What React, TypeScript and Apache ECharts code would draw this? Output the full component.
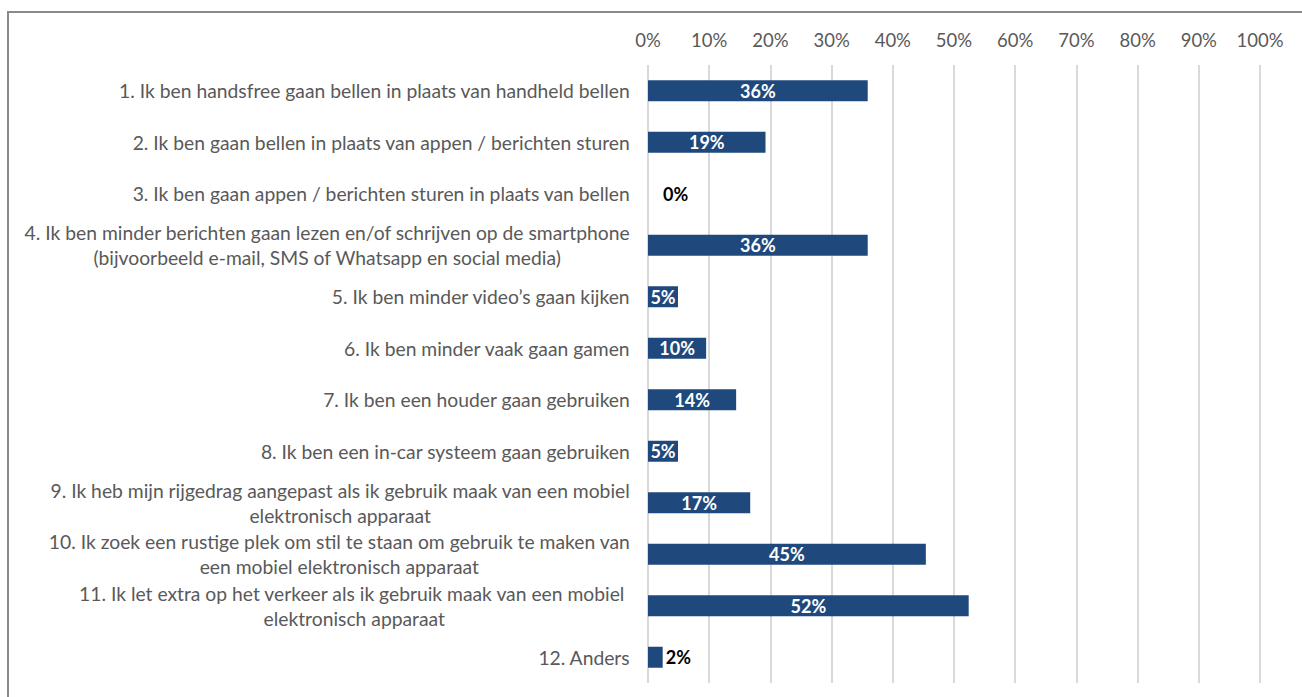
import React, { useEffect, useRef } from "react";
import * as echarts from "echarts";

const categories: string[] = [
  "1. Ik ben handsfree gaan bellen in plaats van handheld bellen",
  "2. Ik ben gaan bellen in plaats van appen / berichten sturen",
  "3. Ik ben gaan appen / berichten sturen in plaats van bellen",
  "4. Ik ben minder berichten gaan lezen en/of schrijven op de smartphone\n(bijvoorbeeld e-mail, SMS of Whatsapp en social media)",
  "5. Ik ben minder video’s gaan kijken",
  "6. Ik ben minder vaak gaan gamen",
  "7. Ik ben een houder gaan gebruiken",
  "8. Ik ben een in-car systeem gaan gebruiken",
  "9. Ik heb mijn rijgedrag aangepast als ik gebruik maak van een mobiel\nelektronisch apparaat",
  "10. Ik zoek een rustige plek om stil te staan om gebruik te maken van\neen mobiel elektronisch apparaat",
  "11. Ik let extra op het verkeer als ik gebruik maak van een mobiel \nelektronisch apparaat",
  "12. Anders",
];

const values: number[] = [35.9, 19.2, 0, 35.9, 4.9, 9.5, 14.4, 4.9, 16.7, 45.4, 52.4, 2.4];

const tickValues: number[] = [0, 10, 20, 30, 40, 50, 60, 70, 80, 90, 100];

const FONT = "Lato, 'Open Sans', sans-serif";
const BAR = "#1F497D";

export default function App() {
  const ref = useRef<HTMLDivElement>(null);

  useEffect(() => {
    if (!ref.current) return;
    const chart = echarts.init(ref.current, null, { renderer: "svg" });

    const data = values.map((v) => {
      if (v < 3) {
        return {
          value: v,
          label: {
            position: "right",
            color: "#000000",
            distance: v === 0 ? 15 : 3,
          },
        };
      }
      return { value: v };
    });

    chart.setOption({
      animation: false,
      backgroundColor: "#ffffff",
      graphic: [
        {
          type: "rect",
          shape: { x: 8, y: 12, width: 1400, height: 800 },
          style: { fill: "none", stroke: "#8a8a8a", lineWidth: 2 },
          silent: true,
        },
      ],
      grid: { left: 648, right: 42, top: 65, bottom: 14, containLabel: false },
      xAxis: {
        type: "value",
        position: "top",
        min: tickValues[0],
        max: tickValues[tickValues.length - 1],
        interval: tickValues[1] - tickValues[0],
        axisLine: { show: false },
        axisTick: { show: false },
        axisLabel: {
          formatter: "{value}%",
          color: "#595959",
          fontSize: 18.5,
          fontFamily: FONT,
          margin: 16,
        },
        splitLine: { show: true, lineStyle: { color: "#d9d9d9", width: 2 } },
      },
      yAxis: {
        type: "category",
        inverse: true,
        data: categories,
        axisLine: { show: false },
        axisTick: { show: false },
        axisLabel: {
          margin: 18,
          align: "right",
          color: "#595959",
          fontSize: 19.3,
          fontFamily: FONT,
          formatter: (s: string) =>
            s
              .split("\n")
              .map((l) => `{c|${l}}`)
              .join("\n"),
          rich: {
            c: {
              align: "center",
              color: "#595959",
              fontSize: 19.3,
              fontFamily: FONT,
              lineHeight: 25,
            },
          },
        },
      },
      series: [
        {
          type: "bar",
          data,
          barWidth: 21,
          itemStyle: { color: BAR },
          label: {
            show: true,
            position: "inside",
            color: "#ffffff",
            fontWeight: "bold",
            fontSize: 18,
            fontFamily: FONT,
            formatter: (p: any) => `${Math.round(p.value)}%`,
          },
        },
      ],
    });

    return () => chart.dispose();
  }, []);

  return (
    <div
      ref={ref}
      style={{ position: "absolute", left: 0, top: 0, width: 1302, height: 697 }}
    />
  );
}
